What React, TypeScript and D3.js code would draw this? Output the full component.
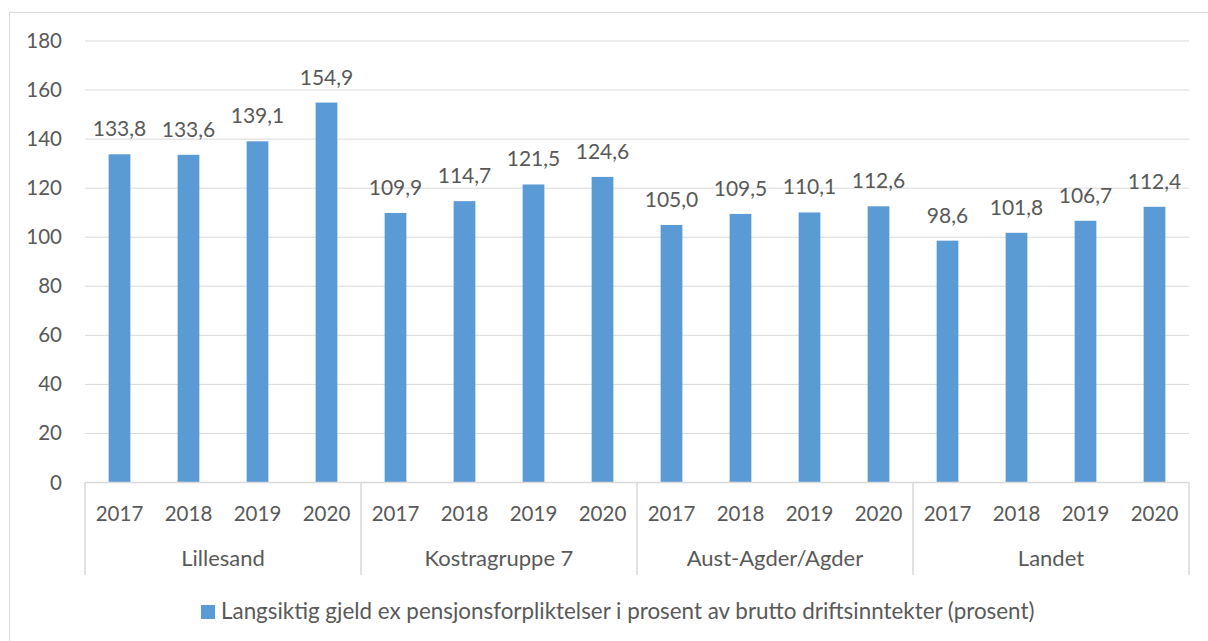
import React from "react";
import * as d3 from "d3";

const groups = ["Lillesand", "Kostragruppe 7", "Aust-Agder/Agder", "Landet"];
const years = ["2017", "2018", "2019", "2020"];
const lillesand = [133.8, 133.6, 139.1, 154.9];
const kostragruppe7 = [109.9, 114.7, 121.5, 124.6];
const austAgder = [105.0, 109.5, 110.1, 112.6];
const landet = [98.6, 101.8, 106.7, 112.4];
const seriesValues = [lillesand, kostragruppe7, austAgder, landet];
const yTicks = [0, 20, 40, 60, 80, 100, 120, 140, 160, 180];
const legendLabel =
  "Langsiktig gjeld ex pensjonsforpliktelser i prosent av brutto driftsinntekter (prosent)";

const W = 1208;
const H = 641;
const FONT = "Lato, 'Open Sans', sans-serif";
const TEXT = "#595959";
const GRID = "#d9d9d9";
const BAR = "#5b9bd5";

export default function App() {
  const left = 85;
  const right = 1189;
  const top = 41;
  const bottom = 482.5;

  const y = d3.scaleLinear().domain([0, 180]).range([bottom, top]);
  const xGroup = d3.scaleBand<string>().domain(groups).range([left, right]).padding(0);
  const xYear = d3
    .scaleBand<string>()
    .domain(years)
    .range([0, xGroup.bandwidth()])
    .paddingInner(0.685)
    .paddingOuter(0.3425);

  const fmt = (v: number) => d3.format(".1f")(v).replace(".", ",");

  return (
    <svg
      width={W}
      height={H}
      style={{ position: "absolute", left: 0, top: 0, background: "#fff" }}
      fontFamily={FONT}
    >
      <rect x={9.5} y={12.5} width={1205} height={640} fill="#fff" stroke={GRID} />
      {yTicks.map((t) => (
        <g key={t}>
          {t > 0 && (
            <line x1={left} x2={right} y1={y(t)} y2={y(t)} stroke={GRID} strokeWidth={1} />
          )}
          <text x={62} y={y(t) + 7} textAnchor="end" fontSize={20.5} fill={TEXT}>
            {t}
          </text>
        </g>
      ))}
      {groups.map((g, gi) => (
        <g key={g} transform={`translate(${xGroup(g)},0)`}>
          {years.map((yr, i) => {
            const v = seriesValues[gi][i];
            const bx = xYear(yr)!;
            const bw = xYear.bandwidth();
            return (
              <g key={yr}>
                <rect x={bx} y={y(v)} width={bw} height={y(0) - y(v)} fill={BAR} />
                <text
                  x={bx + bw / 2}
                  y={y(v) - 18}
                  textAnchor="middle"
                  fontSize={21}
                  fill={TEXT}
                >
                  {fmt(v)}
                </text>
                <text
                  x={bx + bw / 2}
                  y={521}
                  textAnchor="middle"
                  fontSize={20.5}
                  fill={TEXT}
                >
                  {yr}
                </text>
              </g>
            );
          })}
          <text
            x={xGroup.bandwidth() / 2}
            y={566}
            textAnchor="middle"
            fontSize={22}
            fill={TEXT}
          >
            {g}
          </text>
        </g>
      ))}
      <line x1={left} x2={right} y1={y(0)} y2={y(0)} stroke={GRID} strokeWidth={1.5} />
      {[...groups.map((g) => xGroup(g)!), right].map((sx, i) => (
        <line key={i} x1={sx} x2={sx} y1={y(0)} y2={575} stroke={GRID} strokeWidth={1.5} />
      ))}
      <rect x={201} y={605} width={14} height={14} fill={BAR} />
      <text x={221} y={619} fontSize={22.4} fill={TEXT}>
        {legendLabel}
      </text>
    </svg>
  );
}
